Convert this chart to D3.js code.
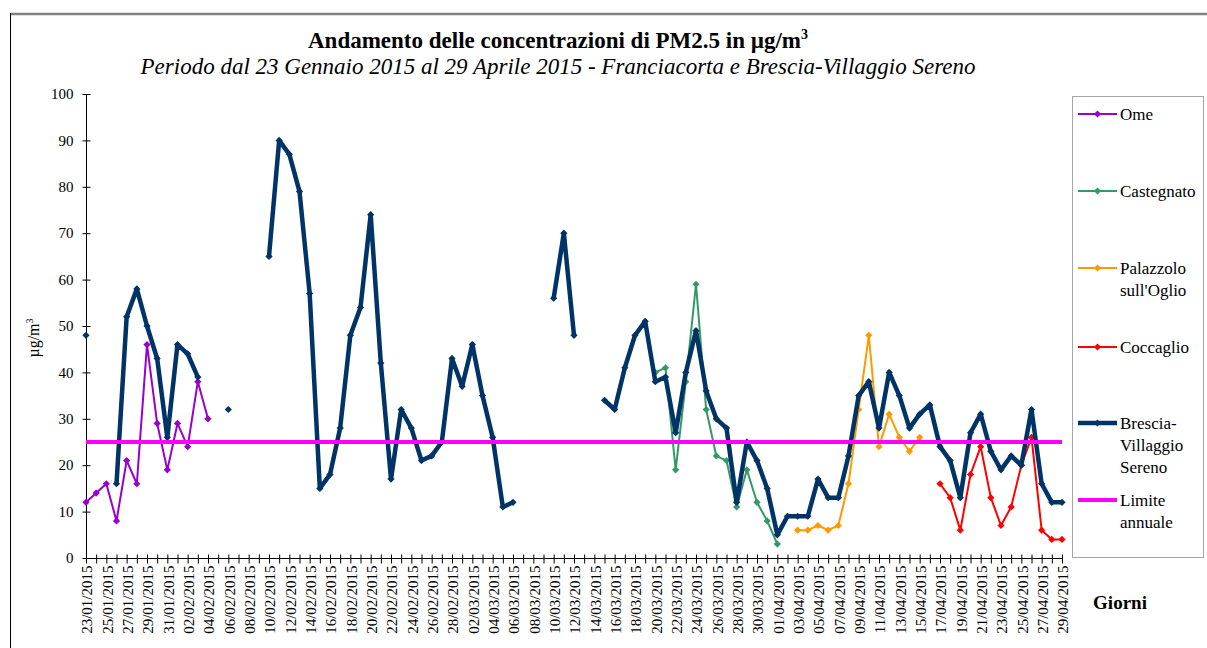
<!DOCTYPE html>
<html>
<head>
<meta charset="utf-8">
<script src="https://cdn.jsdelivr.net/npm/d3@7"></script>
<style>
	body { margin: 0; background: #fff; }
	text { font-family: 'Liberation Serif', 'Times New Roman', serif; fill: #000; }
</style>
</head>
<body>
<div id="vis"></div>
<script>
// days on the x axis, 23/01/2015 - 29/04/2015
const days = d3.timeDay.range(new Date(2015, 0, 23), new Date(2015, 3, 30))
const dayLabels = days.map(d3.timeFormat('%d/%m/%Y'))

const yTicks = [0, 10, 20, 30, 40, 50, 60, 70, 80, 90, 100]

// series values (null = no data), each starts at its own first day
const omeStart = '23/01/2015'
const ome = [12, 14, 16, 8, 21, 16, 46, 29, 19, 29, 24, 38, 30]

const castegnatoStart = '20/03/2015'
const castegnato = [40, 41, 19, 38, 59, 32, 22, 21, 11, 19, 12, 8, 3]

const palazzoloStart = '03/04/2015'
const palazzolo = [6, 6, 7, 6, 7, 16, 32, 48, 24, 31, 26, 23, 26]

const coccaglioStart = '17/04/2015'
const coccaglio = [16, 13, 6, 18, 24, 13, 7, 11, 20, 26, 6, 4, 4]

const bresciaStart = '23/01/2015'
const brescia = [48, null, null, 16, 52, 58, 50, 43, 26, 46, 44, 39, null, null, 32, null, null, null,
	65, 90, 87, 79, 57, 15, 18, 28, 48, 54, 74, 42, 17, 32, 28, 21, 22, 25, 43, 37, 46, 35, 26, 11, 12,
	null, null, null, 56, 70, 48, null, null, 34, 32, 41, 48, 51, 38, 39, 27, 40, 49, 36, 30, 28, 12, 25,
	21, 15, 5, 9, 9, 9, 17, 13, 13, 22, 35, 38, 28, 40, 35, 28, 31, 33, 24, 21, 13, 27, 31, 23, 19, 22,
	20, 32, 16, 12, 12]

const limite = 25

const series = [
	{name: ['Ome'], color: '#9900cc', width: 2, start: omeStart, values: ome, ly: 114},
	{name: ['Castegnato'], color: '#339966', width: 2, start: castegnatoStart, values: castegnato, ly: 191},
	{name: ['Palazzolo', "sull'Oglio"], color: '#ff9900', width: 2, start: palazzoloStart, values: palazzolo, ly: 268},
	{name: ['Coccaglio'], color: '#ff0000', width: 2, start: coccaglioStart, values: coccaglio, ly: 347},
	{name: ['Brescia-', 'Villaggio', 'Sereno'], color: '#003366', width: 4.5, start: bresciaStart, values: brescia, ly: 423},
]

const W = 1207, H = 648

let svg = d3.select('#vis')
	.append('svg')
	.attr('width', W)
	.attr('height', H)

// frame
svg.append('line').attr('x1', 10).attr('x2', W).attr('y1', 14).attr('y2', 14)
	.attr('stroke', '#808080').attr('stroke-width', 2.5)
svg.append('line').attr('x1', 10.5).attr('x2', 10.5).attr('y1', 13).attr('y2', H)
	.attr('stroke', '#000').attr('stroke-width', 1)

// titles
let title = svg.append('text')
	.attr('x', 558).attr('y', 48)
	.attr('text-anchor', 'middle')
	.attr('font-size', '23px')
	.attr('font-weight', 700)
title.append('tspan').text('Andamento delle concentrazioni di PM2.5 in µg/m')
title.append('tspan').text('3').attr('font-size', '14px').attr('dy', -9)

svg.append('text')
	.attr('x', 558).attr('y', 74)
	.attr('text-anchor', 'middle')
	.attr('font-size', '23px')
	.attr('font-style', 'italic')
	.text('Periodo dal 23 Gennaio 2015 al 29 Aprile 2015 - Franciacorta e Brescia-Villaggio Sereno')

// scales
let x = d3.scalePoint(d3.range(days.length), [86, 1062])
let y = d3.scaleLinear([0, 100], [558, 94])

// y axis
let yAxis = svg.append('g').attr('transform', 'translate(86.5,0)')
yAxis.append('line').attr('y1', y(100)).attr('y2', y(0)).attr('stroke', '#000')
yAxis.selectAll('.ytick')
	.data(yTicks).enter()
	.append('line')
	.attr('x1', -4).attr('x2', 4)
	.attr('y1', d => y(d) + 0.5).attr('y2', d => y(d) + 0.5)
	.attr('stroke', '#000')
yAxis.selectAll('.ylab')
	.data(yTicks).enter()
	.append('text')
	.attr('x', -13)
	.attr('y', d => y(d))
	.attr('dy', '0.35em')
	.attr('text-anchor', 'end')
	.attr('font-size', '15px')
	.text(d => d)

let yTitle = svg.append('text')
	.attr('transform', 'translate(39,338) rotate(-90)')
	.attr('text-anchor', 'middle')
	.attr('font-size', '16px')
yTitle.append('tspan').text('µg/m')
yTitle.append('tspan').text('3').attr('font-size', '10px').attr('dy', -6)

// x axis
let xAxis = svg.append('g').attr('transform', 'translate(0,558.5)')
xAxis.append('line').attr('x1', 86).attr('x2', 1062).attr('stroke', '#000')
xAxis.selectAll('.xtick')
	.data(d3.range(days.length)).enter()
	.append('line')
	.attr('x1', d => x(d) + 0.5).attr('x2', d => x(d) + 0.5)
	.attr('y1', -4).attr('y2', 5)
	.attr('stroke', '#000')
xAxis.selectAll('.xlab')
	.data(d3.range(0, days.length, 2)).enter()
	.append('text')
	.attr('transform', d => `translate(${x(d) + 1},7) rotate(-90)`)
	.attr('dy', '0.35em')
	.attr('text-anchor', 'end')
	.attr('font-size', '15px')
	.text(d => dayLabels[d])

svg.append('text')
	.attr('x', 1120).attr('y', 609)
	.attr('text-anchor', 'middle')
	.attr('font-size', '19px')
	.attr('font-weight', 700)
	.text('Giorni')

// lines
let line = d3.line()
	.defined(d => d.v != null)
	.x(d => x(d.i))
	.y(d => y(d.v))

let diamond = d3.symbol(d3.symbolSquare, 26)

series.forEach(s => {
	let i0 = dayLabels.indexOf(s.start)
	let pts = s.values.map((v, k) => ({i: i0 + k, v: v}))
	svg.append('path')
		.datum(pts)
		.attr('d', line)
		.attr('fill', 'none')
		.attr('stroke', s.color)
		.attr('stroke-width', s.width)
		.attr('stroke-linejoin', 'round')
	svg.selectAll(null)
		.data(pts.filter(d => d.v != null)).enter()
		.append('path')
		.attr('d', diamond)
		.attr('transform', d => `translate(${x(d.i)},${y(d.v)}) rotate(45)`)
		.attr('fill', s.color)
})

// annual limit
svg.append('path')
	.datum(d3.range(days.length).map(i => ({i: i, v: limite})))
	.attr('d', line)
	.attr('fill', 'none')
	.attr('stroke', '#ff00ff')
	.attr('stroke-width', 4)

// legend
let legend = svg.append('g')
legend.append('rect')
	.attr('x', 1072.5).attr('y', 96.5)
	.attr('width', 131).attr('height', 461)
	.attr('fill', 'none')
	.attr('stroke', '#a6a6a6')

let legendItems = series.concat([{name: ['Limite', 'annuale'], color: '#ff00ff', width: 4, ly: 500, noMark: true}])

legendItems.forEach(s => {
	legend.append('line')
		.attr('x1', 1078).attr('x2', 1117)
		.attr('y1', s.ly).attr('y2', s.ly)
		.attr('stroke', s.color)
		.attr('stroke-width', s.width)
	if (!s.noMark)
		legend.append('path')
			.attr('d', diamond)
			.attr('transform', `translate(1097.5,${s.ly}) rotate(45)`)
			.attr('fill', s.color)
	legend.selectAll(null)
		.data(s.name).enter()
		.append('text')
		.attr('x', 1120)
		.attr('y', (d, k) => s.ly + k * 22)
		.attr('dy', '0.35em')
		.attr('font-size', '17px')
		.text(d => d)
})
</script>
</body>
</html>
